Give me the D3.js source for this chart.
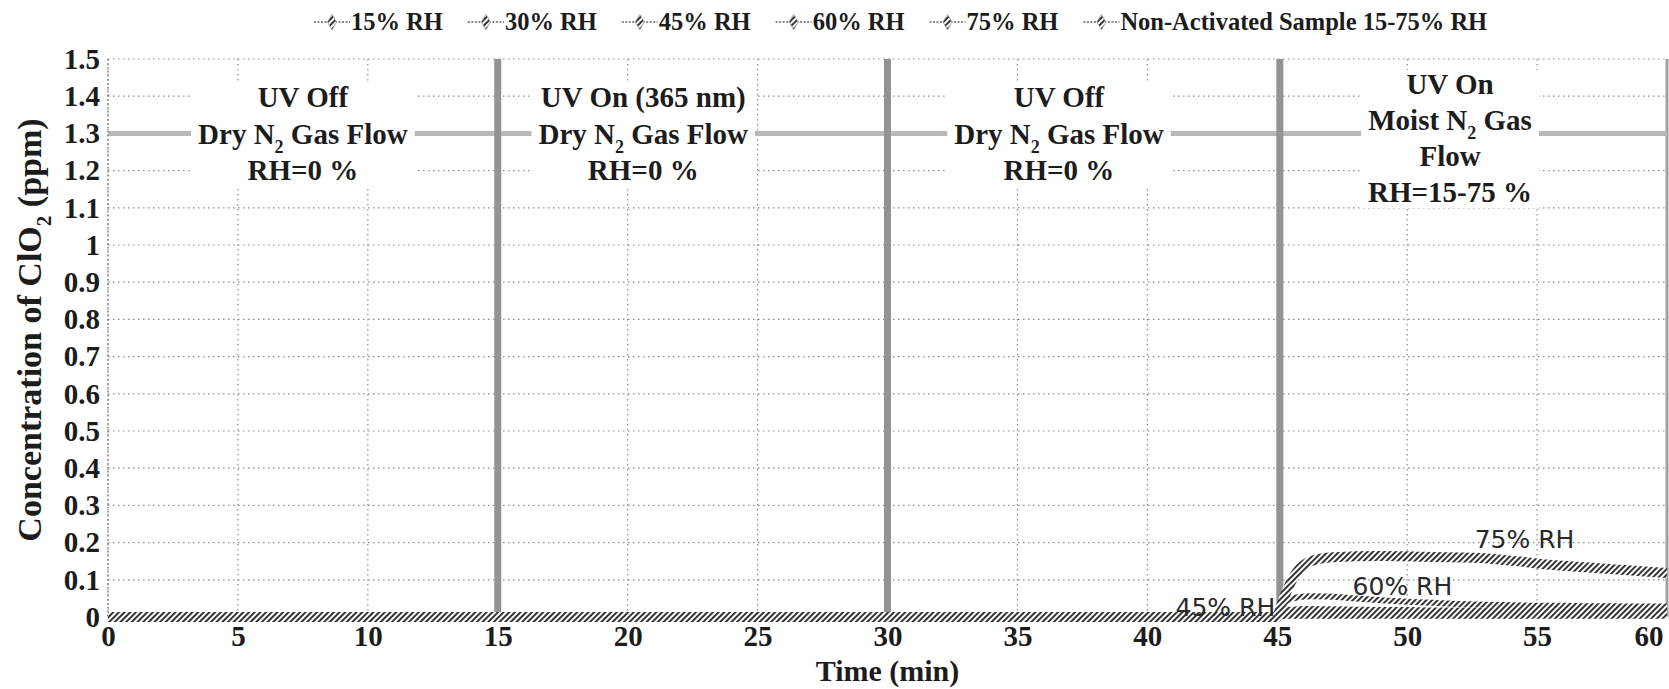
<!DOCTYPE html>
<html>
<head>
<meta charset="utf-8">
<script src="https://cdn.jsdelivr.net/npm/d3@7"></script>
<style>
  html, body { margin: 0; padding: 0; background: #fff; }
  svg { display: block; }
</style>
</head>
<body>
<svg id="chart" width="1669" height="689"></svg>
<script>
// ---- data -------------------------------------------------------------
const seriesNames = ["15% RH", "30% RH", "45% RH", "60% RH", "75% RH", "Non-Activated Sample 15-75% RH"];

// sampling times (min)
const timeMin = [0, 15, 30, 45, 45.1, 45.4, 45.8, 46.3, 47, 48, 49, 50, 51, 52, 53, 53.7, 54.5, 55, 56, 57, 58, 59, 60];

// ClO2 concentration (ppm) for each humidity level
const rh15   = [0, 0, 0, 0, 0.004, 0.007, 0.008, 0.008, 0.008, 0.008, 0.007, 0.007, 0.007, 0.007, 0.007, 0.007, 0.006, 0.006, 0.006, 0.006, 0.006, 0.006, 0.006];
const rh30   = [0, 0, 0, 0, 0.008, 0.013, 0.014, 0.014, 0.014, 0.013, 0.013, 0.013, 0.012, 0.012, 0.012, 0.012, 0.011, 0.011, 0.011, 0.011, 0.011, 0.010, 0.010];
const rh45   = [0, 0, 0, 0, 0.012, 0.020, 0.022, 0.023, 0.022, 0.021, 0.020, 0.020, 0.019, 0.019, 0.018, 0.018, 0.018, 0.017, 0.017, 0.017, 0.016, 0.016, 0.016];
const rh60   = [0, 0, 0, 0, 0.020, 0.045, 0.053, 0.056, 0.055, 0.050, 0.045, 0.041, 0.038, 0.035, 0.033, 0.032, 0.031, 0.030, 0.030, 0.029, 0.029, 0.028, 0.028];
const rh75   = [0, 0, 0, 0, 0.020, 0.075, 0.125, 0.150, 0.160, 0.163, 0.164, 0.163, 0.161, 0.160, 0.158, 0.153, 0.148, 0.144, 0.138, 0.133, 0.128, 0.123, 0.118];
const nonAct = [0, 0, 0, 0, 0.001, 0.002, 0.002, 0.002, 0.002, 0.002, 0.002, 0.002, 0.002, 0.002, 0.002, 0.002, 0.002, 0.002, 0.002, 0.002, 0.002, 0.002, 0.002];

const yTicks = [0, 0.1, 0.2, 0.3, 0.4, 0.5, 0.6, 0.7, 0.8, 0.9, 1, 1.1, 1.2, 1.3, 1.4, 1.5];
const xTicks = [0, 5, 10, 15, 20, 25, 30, 35, 40, 45, 50, 55, 60];

// phase boundaries (min) and the arrow level (ppm)
const phaseBounds = [15, 30, 45.1];
const arrowLevel = 1.3;

const phaseText = [
  ["UV Off", "Dry N_2 Gas Flow", "RH=0 %"],
  ["UV On (365 nm)", "Dry N_2 Gas Flow", "RH=0 %"],
  ["UV Off", "Dry N_2 Gas Flow", "RH=0 %"],
  ["UV On", "Moist N_2 Gas", "Flow", "RH=15-75 %"]
];
const phaseTextTime = [7.5, 20.6, 36.6, 51.65];

const curveLabels = ["75% RH", "60% RH", "45% RH"];
const curveLabelTime = [52.6, 47.9, 45.0];
const curveLabelValue = [0.185, 0.059, 0.002];

// ---- layout -----------------------------------------------------------
const svg = d3.select("#chart");
const plotLeft = 108, plotRight = 1667, plotTop = 59, plotBottom = 617;
const serif = "'Liberation Serif', 'Times New Roman', serif";
const ink = "#1c1c1c";

const x = d3.scaleLinear().domain([0, 60]).range([plotLeft, plotRight]);
const y = d3.scaleLinear().domain([0, 1.5]).range([plotBottom, plotTop]);

const defs = svg.append("defs");
const hatch = defs.append("pattern")
  .attr("id", "hatch").attr("patternUnits", "userSpaceOnUse")
  .attr("width", 4).attr("height", 4)
  .attr("patternTransform", "rotate(45)");
hatch.append("rect").attr("width", 4).attr("height", 4).attr("fill", "#fff");
hatch.append("rect").attr("width", 2).attr("height", 4).attr("fill", "#333");

// text with "_n" subscripts
function richText(sel, str, size) {
  const parts = str.split(/_(\d)/);
  let shifted = false;
  parts.forEach((p, i) => {
    if (i % 2 === 1) {
      sel.append("tspan").attr("dy", size * 0.3).attr("font-size", size * 0.62).text(p);
      shifted = true;
    } else if (p.length) {
      const t = sel.append("tspan").text(p);
      if (shifted) { t.attr("dy", -size * 0.3); shifted = false; }
    }
  });
}

// ---- grid -------------------------------------------------------------
const grid = svg.append("g").attr("stroke", "#8c8c8c").attr("stroke-width", 1.2)
  .attr("stroke-dasharray", "1.5,3.5");
grid.selectAll(".gy").data(yTicks).join("line")
  .attr("x1", plotLeft).attr("x2", plotRight)
  .attr("y1", d => y(d)).attr("y2", d => y(d));
grid.selectAll(".gx").data(xTicks.filter(d => d < 60)).join("line")
  .attr("x1", d => x(d)).attr("x2", d => x(d))
  .attr("y1", plotTop).attr("y2", plotBottom);

// right border
svg.append("line").attr("x1", x(60)).attr("x2", x(60)).attr("y1", plotTop).attr("y2", plotBottom)
  .attr("stroke", "#a0a0a0").attr("stroke-width", 3);

// ---- phase arrow and notes -------------------------------------------
svg.append("line")
  .attr("x1", x(0)).attr("x2", x(60))
  .attr("y1", y(arrowLevel)).attr("y2", y(arrowLevel))
  .attr("stroke", "#b8b8b8").attr("stroke-width", 5);

const noteSize = 29;
phaseText.forEach((lines, k) => {
  const g = svg.append("g");
  const n = lines.length;
  const spacing = n === 4 ? 36 : 36.5;
  const offset = n === 4 ? 5 : 1;
  const txt = g.append("g");
  lines.forEach((ln, i) => {
    const cy = y(arrowLevel) + (i - (n - 1) / 2) * spacing + offset;
    const t = txt.append("text")
      .attr("x", x(phaseTextTime[k])).attr("y", cy + noteSize * 0.33)
      .attr("text-anchor", "middle")
      .attr("font-family", serif).attr("font-weight", "bold")
      .attr("font-size", noteSize).attr("fill", ink);
    richText(t, ln, noteSize);
  });
  const bb = txt.node().getBBox();
  g.insert("rect", ":first-child")
    .attr("x", bb.x - 7).attr("y", bb.y + 2)
    .attr("width", bb.width + 14).attr("height", bb.height - 2)
    .attr("fill", "#fff");
});

// phase boundaries
svg.append("g").selectAll("line").data(phaseBounds).join("line")
  .attr("x1", d => x(d)).attr("x2", d => x(d))
  .attr("y1", plotTop).attr("y2", plotBottom)
  .attr("stroke", "#939393").attr("stroke-width", 7);

// ---- series -----------------------------------------------------------
const seriesValues = [rh15, rh30, rh45, rh60, rh75, nonAct];
const seriesWidth = [5, 5, 5, 6, 10, 5];
const line = d3.line().x(d => x(d[0])).y(d => y(d[1])).curve(d3.curveMonotoneX);
const drawOrder = [5, 0, 1, 2, 3, 4];
svg.append("g").selectAll("path").data(drawOrder).join("path")
  .attr("d", i => line(timeMin.map((t, j) => [t, seriesValues[i][j]])))
  .attr("fill", "none")
  .attr("stroke", "url(#hatch)")
  .attr("stroke-width", i => seriesWidth[i])
  .attr("stroke-linejoin", "round");

// curve labels
svg.append("g").selectAll("text").data(curveLabels).join("text")
  .attr("x", (d, i) => x(curveLabelTime[i]) - (i === 2 ? 2 : 0))
  .attr("y", (d, i) => y(curveLabelValue[i]))
  .attr("text-anchor", (d, i) => i === 2 ? "end" : "start")
  .attr("font-family", "'DejaVu Sans', sans-serif")
  .attr("font-size", 25).attr("fill", "#2a2a2a")
  .text(d => d);

// ---- axes -------------------------------------------------------------
const tickSize = 29;
const yAxis = svg.append("g").attr("transform", `translate(${plotLeft},0)`)
  .call(d3.axisLeft(y).tickValues(yTicks).tickSize(0).tickPadding(8)
    .tickFormat(d => String(+d.toFixed(1))));
yAxis.select(".domain").remove();
yAxis.selectAll("text").attr("font-family", serif).attr("font-weight", "bold")
  .attr("font-size", tickSize).attr("fill", ink);

const xAxis = svg.append("g").attr("transform", `translate(0,${plotBottom})`)
  .call(d3.axisBottom(x).tickValues(xTicks).tickSize(0).tickPadding(8));
xAxis.select(".domain").remove();
xAxis.selectAll("text").attr("font-family", serif).attr("font-weight", "bold")
  .attr("font-size", tickSize).attr("fill", ink);
xAxis.selectAll("text").filter(d => d === 60).attr("text-anchor", "end").attr("x", -4);

// left axis line (dotted like the grid)
svg.append("line").attr("x1", plotLeft).attr("x2", plotLeft).attr("y1", plotTop).attr("y2", plotBottom)
  .attr("stroke", "#7a7a7a").attr("stroke-width", 1.4).attr("stroke-dasharray", "1.5,2.5");

// axis titles
svg.append("text")
  .attr("x", (plotLeft + plotRight) / 2).attr("y", 681)
  .attr("text-anchor", "middle")
  .attr("font-family", serif).attr("font-weight", "bold")
  .attr("font-size", 30).attr("fill", ink)
  .text("Time (min)");

const yTitle = svg.append("text")
  .attr("transform", "translate(41,330) rotate(-90)")
  .attr("text-anchor", "middle")
  .attr("font-family", serif).attr("font-weight", "bold")
  .attr("font-size", 34).attr("fill", ink);
richText(yTitle, "Concentration of ClO_2 (ppm)", 34);

// ---- legend -----------------------------------------------------------
const legend = svg.append("g");
let lx = 314;
const ly = 22;
seriesNames.forEach(name => {
  legend.append("line")
    .attr("x1", lx).attr("x2", lx + 36).attr("y1", ly).attr("y2", ly)
    .attr("stroke", "#8a8a8a").attr("stroke-width", 2).attr("stroke-dasharray", "2,1.5");
  legend.append("path")
    .attr("d", d3.symbol(d3.symbolDiamond, 70)())
    .attr("transform", `translate(${lx + 18},${ly})`)
    .attr("fill", "url(#hatch)").attr("stroke", "#9a9a9a").attr("stroke-width", 0.8);
  const t = legend.append("text")
    .attr("x", lx + 37).attr("y", ly + 8)
    .attr("font-family", serif).attr("font-weight", "bold")
    .attr("font-size", 24.5).attr("fill", ink)
    .text(name);
  lx += 37 + t.node().getComputedTextLength() + 25;
});
</script>
</body>
</html>
